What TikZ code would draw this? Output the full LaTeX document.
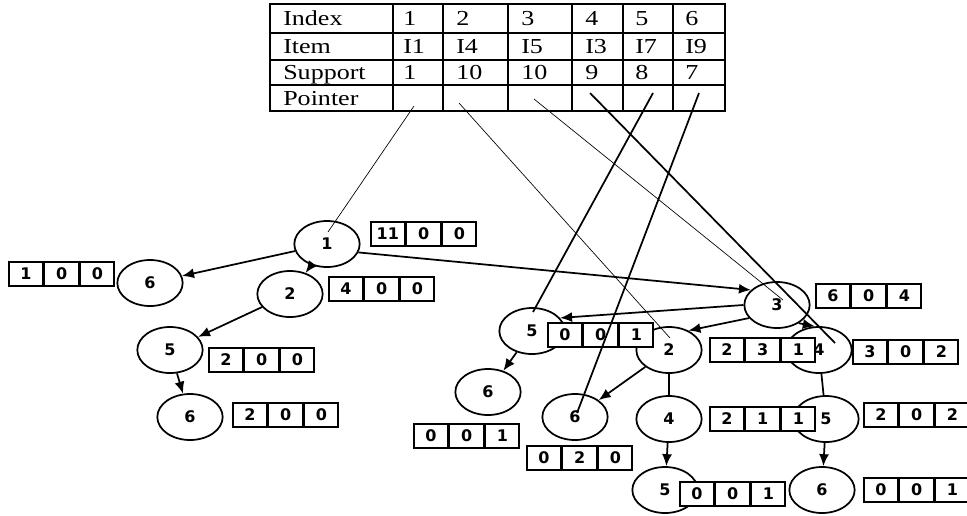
\documentclass[tikz,border=0pt]{standalone}
\usepackage{fontspec}
\setmainfont{Liberation Serif}
\newfontfamily\tabfont[FakeStretch=1.22]{Liberation Serif}
\newfontfamily\nodefont{DejaVu Sans}
\usetikzlibrary{arrows.meta,shapes.geometric}

\tikzset{
 tn/.style={ellipse, draw, line width=1.3pt, minimum width=49pt, minimum height=34.5pt, inner sep=0pt, font=\nodefont\bfseries\fontsize{12}{14}\selectfont},
 cell/.style={draw, fill=white, line width=1.3pt, minimum width=25.5pt, minimum height=18pt, inner sep=0pt, font=\nodefont\bfseries\fontsize{12}{14}\selectfont},
 arr/.style={line width=1.3pt, -{Latex[length=9pt,width=7.5pt]}},
 link/.style={line width=1.3pt},
 thinptr/.style={line width=0.5pt},
 thickptr/.style={line width=1.3pt},
 grid/.style={line width=1.2pt},
 tt/.style={anchor=west, inner sep=0pt, text height=10.5pt, text depth=0pt, font=\tabfont\fontsize{16}{19}\selectfont},
}

\newcommand\tribox[5]{%
 \node[cell, anchor=north west] (#1a) at (#2) {#3};
 \node[cell, anchor=west] (#1b) at (#1a.east) {#4};
 \node[cell, anchor=west] (#1c) at (#1b.east) {#5};
}

\begin{document}
\begin{tikzpicture}[x=0.75pt,y=-0.75pt]
\useasboundingbox (0,0) rectangle (967,515);

% ---------- table ----------
\draw[grid] (270,4) rectangle (725,111);
\foreach \yy in {33,60,85} \draw[grid] (270,\yy) -- (725,\yy);
\foreach \xx in {393,443,508,572,623,673} \draw[grid] (\xx,4) -- (\xx,111);

\node[tt] (h0) at (283,18.5) {Index};
\node[tt] (h1) at (403,18.5) {1};
\node[tt] (h2) at (456,18.5) {2};
\node[tt] (h3) at (521,18.5) {3};
\node[tt] (h4) at (585,18.5) {4};
\node[tt] (h5) at (635,18.5) {5};
\node[tt] (h6) at (685,18.5) {6};

\node[tt] (i0) at (283,46.5) {Item};
\node[tt] (i1) at (403,46.5) {I1};
\node[tt] (i2) at (456,46.5) {I4};
\node[tt] (i3) at (521,46.5) {I5};
\node[tt] (i4) at (585,46.5) {I3};
\node[tt] (i5) at (635,46.5) {I7};
\node[tt] (i6) at (685,46.5) {I9};

\node[tt] (s0) at (283,72.5) {Support};
\node[tt] (s1) at (403,72.5) {1};
\node[tt] (s2) at (456,72.5) {10};
\node[tt] (s3) at (521,72.5) {10};
\node[tt] (s4) at (585,72.5) {9};
\node[tt] (s5) at (635,72.5) {8};
\node[tt] (s6) at (685,72.5) {7};

\node[tt] (q0) at (283,98) {Pointer};

\coordinate (p1) at (414,106);
\coordinate (p2) at (459,103);
\coordinate (p3) at (534,99);
\coordinate (p4) at (590,93);
\coordinate (p5) at (653,93);
\coordinate (p6) at (699,93);

% ---------- left tree ----------
\node[tn] (n1) at (327,244) {1};
\node[tn] (l6) at (150,283) {6};
\node[tn] (l2) at (290,294) {2};
\node[tn] (l5) at (170,350) {5};
\node[tn] (l6b) at (190,417) {6};

% ---------- right tree ----------
\node[tn] (r3) at (777,305) {3};
\node[tn] (r5) at (532,331) {5};
\node[tn] (r2) at (669,350) {2};
\node[tn] (r4) at (819,350) {4};
\node[tn] (r6a) at (488,392) {6};
\node[tn] (r6m) at (575,417) {6};
\node[tn] (r4m) at (669,419) {4};
\node[tn] (r5m) at (826,419) {5};
\node[tn] (r5b) at (665,490) {5};
\node[tn] (r6b) at (822,490) {6};

% ---------- count boxes ----------
\tribox{ba}{8,261}{1}{0}{0}
\tribox{bb}{370,221}{11}{0}{0}
\tribox{bc}{328,276}{4}{0}{0}
\tribox{bd}{208,347}{2}{0}{0}
\tribox{be}{232,402}{2}{0}{0}
\tribox{bf}{815,283}{6}{0}{4}
\tribox{bg}{547,322}{0}{0}{1}
\tribox{bh}{709,337}{2}{3}{1}
\tribox{bi}{852,339}{3}{0}{2}
\tribox{bj}{413,423}{0}{0}{1}
\tribox{bk}{526,445}{0}{2}{0}
\tribox{bl}{709,406}{2}{1}{1}
\tribox{bm}{863,402}{2}{0}{2}
\tribox{bn}{679,481}{0}{0}{1}
\tribox{bo}{863,477}{0}{0}{1}

% ---------- tree edges ----------
\draw[arr] (n1) -- (l6);
\draw[arr] (n1) -- (l2);
\draw[arr] (l2) -- (l5);
\draw[arr] (l5) -- (l6b);
\draw[arr] (n1.-15) -- (r3.150);
\draw[arr] (r3.west) -- (r5.25);
\draw[arr] (r3.205) -- (r2.45);
\draw[arr] (r3.-40) -- (r4.100);
\draw[arr] (r5) -- (r6a);
\draw[arr] (r2) -- (r6m);
\draw[link] (r2) -- (r4m);
\draw[arr] (r4m) -- (r5b);
\draw[link] (r4) -- (r5m);
\draw[arr] (r5m) -- (r6b);

% ---------- pointers ----------
\draw[thinptr] (p1) -- ([shift={(1,-12)}]n1.center);
\draw[thinptr] (p2) -- ([shift={(1,-12)}]r2.center);
\draw[thinptr] (p3) -- ([shift={(6,-5)}]r3.center);
\draw[thickptr] (p4) -- ([shift={(16,-7)}]r4.center);
\draw[thickptr] (p5) -- ([shift={(1,-19)}]r5.center);
\draw[thickptr] (p6) -- ([shift={(2,-4)}]r6m.center);
\end{tikzpicture}
\end{document}
